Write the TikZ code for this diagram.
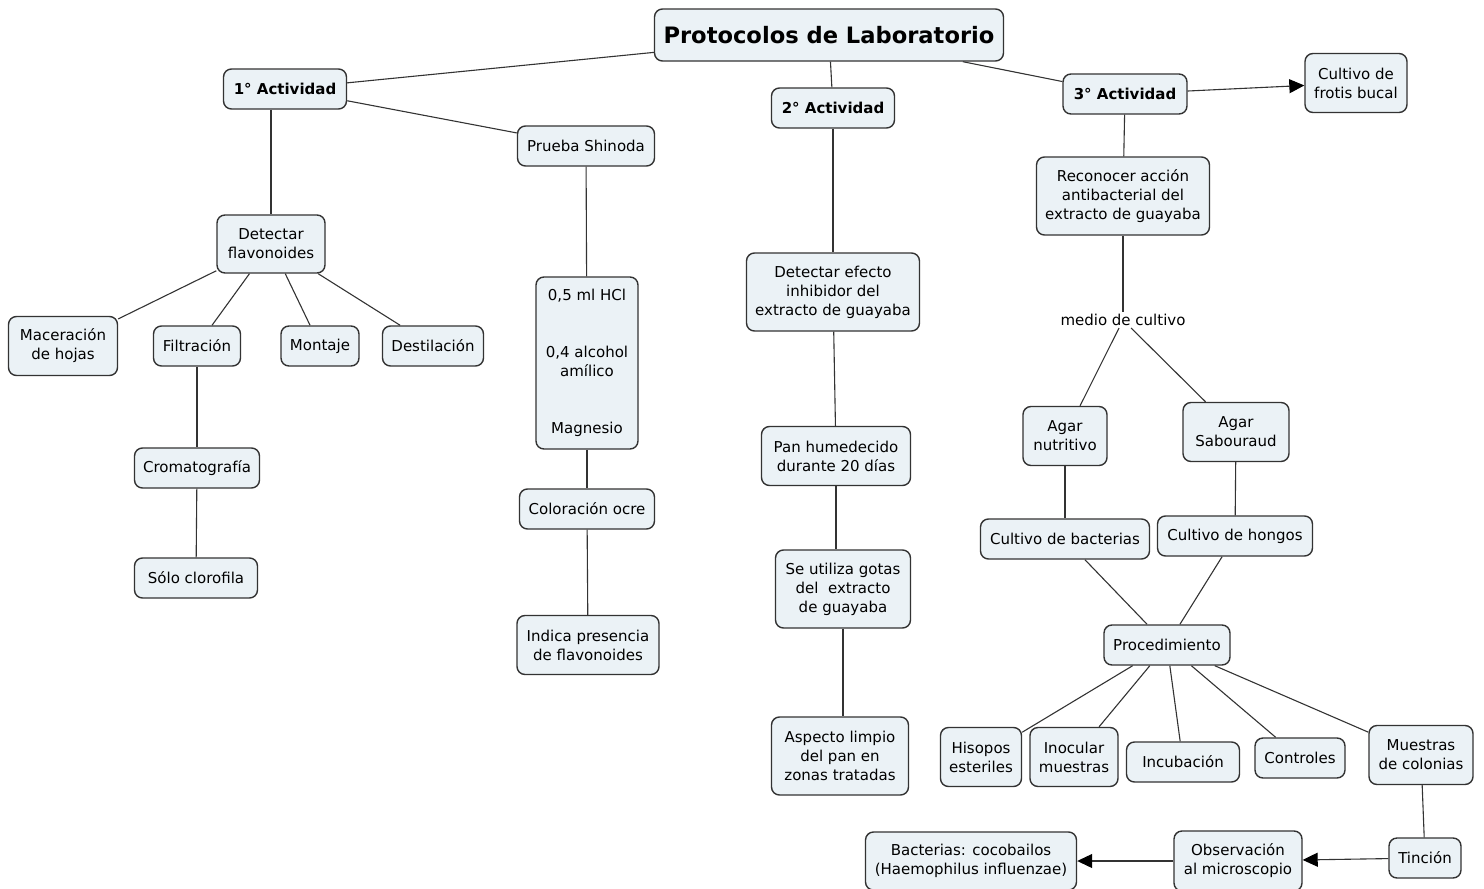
\documentclass[tikz,border=0pt]{standalone}
\usepackage{fontspec}
\setmainfont{DejaVu Sans}
\usetikzlibrary{arrows.meta,positioning}
\definecolor{boxfill}{RGB}{235,242,246}
\definecolor{boxline}{RGB}{51,51,51}

\begin{document}
\begin{tikzpicture}[
    x=1pt, y=-1pt,
    box/.style={draw=boxline, fill=boxfill, line width=1.4pt, rounded corners=8pt, align=center, inner xsep=8pt, inner ysep=4pt, minimum height=40, font=\fontsize{15}{19}\selectfont},
    head/.style={box, font=\fontsize{15}{19}\selectfont\bfseries},
    link/.style={draw=boxline, line width=1.1pt},
    arrow/.style={link, -{Triangle[length=15pt,width=14pt,color=black]}}
]
    \useasboundingbox (0,0) rectangle (1484,889);

    \node[box, minimum width=349, minimum height=52, font=\fontsize{22.6}{26}\selectfont\bfseries] (title) at (829,35) {Protocolos de Laboratorio};
    \node[head, minimum width=123] (act1) at (285,89) {1° Actividad};
    \node[head, minimum width=123] (act2) at (833,108) {2° Actividad};
    \node[head, minimum width=124] (act3) at (1125,94) {3° Actividad};
    \node[box, minimum width=102, minimum height=59] (frotis) at (1356,83) {Cultivo de\\frotis bucal};

    \node[box, minimum width=137] (shinoda) at (586,146) {Prueba Shinoda};
    \node[box, minimum width=108, minimum height=58] (detflav) at (271,244) {Detectar\\flavonoides};
    \node[box, minimum width=109, minimum height=59] (macer) at (63,346) {Maceración\\de hojas};
    \node[box, minimum width=87] (filtr) at (197,346) {Filtración};
    \node[box, minimum width=78] (montaje) at (320,346) {Montaje};
    \node[box, minimum width=101] (destil) at (433,346) {Destilación};
    \node[box, minimum width=125] (croma) at (197,468) {Cromatografía};
    \node[box, minimum width=123] (clorof) at (196,578) {Sólo clorofila};

    \node[box, minimum width=102, minimum height=172] (reactivos) at (587,363) {0,5 ml HCl\\[38pt]0,4 alcohol\\amílico\\[38pt]Magnesio};
    \node[box, minimum width=135] (ocre) at (587,509) {Coloración ocre};
    \node[box, minimum width=142, minimum height=59] (indica) at (588,645) {Indica presencia\\de flavonoides};

    \node[box, minimum width=173, minimum height=78] (detefecto) at (833,292) {Detectar efecto\\inhibidor del\\extracto de guayaba};
    \node[box, minimum width=149, minimum height=59] (pan) at (836,456) {Pan humedecido\\durante 20 días};
    \node[box, minimum width=135, minimum height=78] (gotas) at (843,589) {Se utiliza gotas\\del~~extracto\\de guayaba};
    \node[box, minimum width=137, minimum height=78] (limpio) at (840,756) {Aspecto limpio\\del pan en\\zonas tratadas};

    \node[box, minimum width=173, minimum height=78] (reconocer) at (1123,196) {Reconocer acción\\antibacterial del\\extracto de guayaba};
    \node[font=\fontsize{15}{19}\selectfont, inner sep=2pt] (medio) at (1123,320) {medio de cultivo};
    \node[box, minimum width=84, minimum height=59] (agarnut) at (1065,436) {Agar\\nutritivo};
    \node[box, minimum width=106, minimum height=59] (agarsab) at (1236,432) {Agar\\Sabouraud};
    \node[box, minimum width=169] (cultbac) at (1065,539) {Cultivo de bacterias};
    \node[box, minimum width=155] (culthon) at (1235,536) {Cultivo de hongos};
    \node[box, minimum width=126] (proced) at (1167,645) {Procedimiento};
    \node[box, minimum width=81, minimum height=59] (hisopos) at (981,757) {Hisopos\\esteriles};
    \node[box, minimum width=88, minimum height=59] (inocular) at (1074,757) {Inocular\\muestras};
    \node[box, minimum width=113] (incub) at (1183,762) {Incubación};
    \node[box, minimum width=90] (controles) at (1300,758) {Controles};
    \node[box, minimum width=104, minimum height=59] (colonias) at (1421,755) {Muestras\\de colonias};
    \node[box, minimum width=72] (tincion) at (1425,858) {Tinción};
    \node[box, minimum width=128, minimum height=60] (observ) at (1238,861) {Observación\\al microscopio};
    \node[box, minimum width=211, minimum height=58] (bacterias) at (971,861) {Bacterias: cocobailos\\(Haemophilus influenzae)};

    \draw[link] (title) -- (act1);
    \draw[link] (title) -- (act2);
    \draw[link] (title) -- (act3);
    \draw[arrow] (act3) -- (frotis);

    \draw[link] (act1.south -| detflav.north) -- (detflav.north);
    \draw[link] (act1) -- (shinoda);
    \draw[link] (detflav) -- (macer);
    \draw[link] (detflav) -- (filtr);
    \draw[link] (detflav) -- (montaje);
    \draw[link] (detflav) -- (destil);
    \draw[link] (filtr) -- (croma);
    \draw[link] (croma) -- (clorof);

    \draw[link] (shinoda) -- (reactivos);
    \draw[link] (reactivos) -- (ocre);
    \draw[link] (ocre) -- (indica);

    \draw[link] (act2) -- (detefecto);
    \draw[link] (detefecto) -- (pan);
    \draw[link] (pan) -- (gotas.north -| pan.south);
    \draw[link] (gotas.south) -- (limpio.north -| gotas.south);

    \draw[link] (act3) -- (reconocer);
    \draw[link] (reconocer) -- (medio);
    \draw[link] (medio) -- (agarnut);
    \draw[link] (medio) -- (agarsab);
    \draw[link] (agarnut) -- (cultbac);
    \draw[link] (agarsab) -- (culthon);
    \draw[link] (cultbac) -- (proced);
    \draw[link] (culthon) -- (proced);
    \draw[link] (proced) -- (hisopos);
    \draw[link] (proced) -- (inocular);
    \draw[link] (proced) -- (incub);
    \draw[link] (proced) -- (controles);
    \draw[link] (proced) -- (colonias);
    \draw[link] (colonias) -- (tincion);
    \draw[arrow] (tincion) -- (observ);
    \draw[arrow] (observ) -- (bacterias);
\end{tikzpicture}
\end{document}
